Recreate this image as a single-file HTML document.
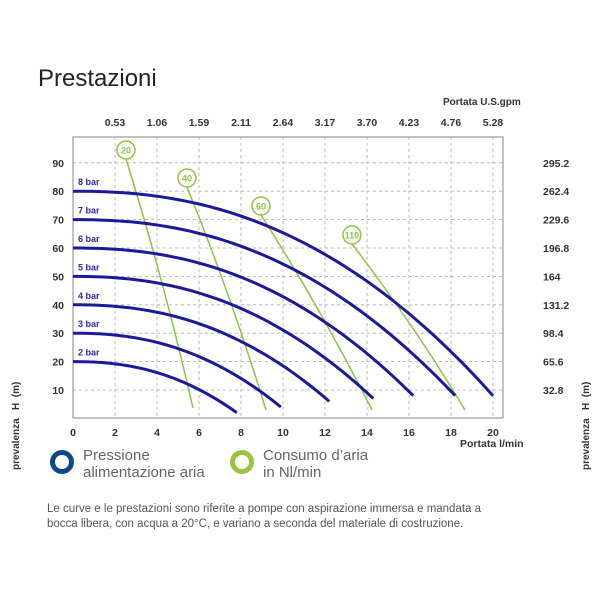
<!DOCTYPE html>
<html><head><meta charset="utf-8"><style>
body{margin:0;background:#fff;}
svg{display:block;font-family:"Liberation Sans",sans-serif;}
</style></head><body>
<svg id="s" width="600" height="600" viewBox="0 0 600 600">
<text x="38" y="86" font-size="24" fill="#222">Prestazioni</text>
<text x="443" y="105" font-size="10" font-weight="bold" fill="#333">Portata U.S.gpm</text>
<g id="grid" stroke="#aaa" stroke-dasharray="3,3" stroke-width="0.8"></g>
<rect x="73" y="137" width="430" height="281" fill="none" stroke="#999" stroke-width="1.2"/>
<g id="lab" font-size="10.5" font-weight="bold" fill="#333"></g>
<g id="green" stroke="#8cc63f" stroke-width="1.5" fill="#fff"></g>
<g id="blue" stroke="#1a1a9a" stroke-width="3" fill="none"></g>
<g id="bl" font-size="9" font-weight="bold" fill="#2a2ab0"></g>
<text transform="translate(19,470) rotate(-90)" font-size="10" font-weight="bold" fill="#333" xml:space="preserve">prevalenza   H  (m)</text>
<text transform="translate(589,470) rotate(-90)" font-size="10" font-weight="bold" fill="#333" xml:space="preserve">prevalenza   H  (m)</text>
<circle cx="62" cy="462" r="9.5" fill="none" stroke="#0a4a8a" stroke-width="5"/>
<text x="83" y="460" font-size="15" fill="#666">Pressione</text>
<text x="83" y="477" font-size="15" fill="#666">alimentazione aria</text>
<circle cx="242" cy="462" r="9.5" fill="none" stroke="#9ac43c" stroke-width="5"/>
<text x="263" y="460" font-size="15" fill="#666">Consumo d’aria</text>
<text x="263" y="477" font-size="15" fill="#666">in Nl/min</text>
<text x="47" y="512" font-size="11.5" fill="#555">Le curve e le prestazioni sono riferite a pompe con aspirazione immersa e mandata a</text>
<text x="47" y="527" font-size="11.5" fill="#555">bocca libera, con acqua a 20°C, e variano a seconda del materiale di costruzione.</text>
</svg>
<script>
var NS="http://www.w3.org/2000/svg";
function el(p,t,a,txt){var e=document.createElementNS(NS,t);for(var k in a)e.setAttribute(k,a[k]);if(txt!==undefined)e.textContent=txt;document.getElementById(p).appendChild(e);return e;}
function X(v){return 73+21*v;} function Y(v){return 418.4-2.84*v;}
for(var i=1;i<=10;i++)el("grid","line",{x1:X(2*i),x2:X(2*i),y1:137,y2:418});
for(var j=1;j<=9;j++)el("grid","line",{x1:73,x2:503,y1:Y(10*j),y2:Y(10*j)});
for(var i=0;i<=10;i++)el("lab","text",{x:X(2*i),y:436,"text-anchor":"middle"},""+2*i);
var g=["0.53","1.06","1.59","2.11","2.64","3.17","3.70","4.23","4.76","5.28"];
for(var i=0;i<10;i++)el("lab","text",{x:X(2*i+2),y:126,"text-anchor":"middle"},g[i]);
var r=["32.8","65.6","98.4","131.2","164","196.8","229.6","262.4","295.2"];
for(var j=1;j<=9;j++){el("lab","text",{x:64,y:Y(10*j)+4,"text-anchor":"end"},""+10*j);el("lab","text",{x:543,y:Y(10*j)+4},r[j-1]);}
el("lab","text",{x:460,y:447,"xml:space":"preserve"},"Portata   l/min");
var gl=[[126,150,"20",193,408],[187,178,"40",266,410],[261,206,"60",372,410],[352,235,"110",465,410]];
gl.forEach(function(c){var mx=(c[0]+c[3])/2+4,my=(c[1]+c[4])/2;
el("green","path",{d:"M"+c[0]+","+(c[1]+9)+" Q"+mx+","+my+" "+c[3]+","+c[4],fill:"none"});
el("green","circle",{cx:c[0],cy:c[1],r:9});
el("green","text",{x:c[0],y:c[1]+3.5,"text-anchor":"middle","font-size":"9",fill:"#8cc63f",stroke:"none","font-weight":"bold"},c[2]);});
var cv=[[20,7.8,2],[30,9.9,4],[40,12.2,6],[50,14.3,7],[60,16.2,8],[70,18.2,8],[80,20,8]];
cv.forEach(function(c,k){var d="";for(var n=0;n<=40;n++){var q=c[1]*n/40,t=q/c[1];var h=c[0]-(c[0]-c[2])*Math.pow(t,2.3);d+=(n?"L":"M")+X(q).toFixed(1)+","+Y(h).toFixed(1);}
el("blue","path",{d:d});el("bl","text",{x:78,y:Y(c[0])-6},(k+2)+" bar");});
</script>
</body></html>
